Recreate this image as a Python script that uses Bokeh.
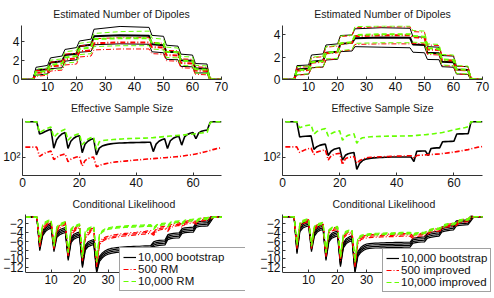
from bokeh.plotting import figure
from bokeh.layouts import column, row
from bokeh.models import FixedTicker, Legend, LegendItem, Range1d
from bokeh.embed import file_html
from bokeh.resources import INLINE

FONT = "Liberation Sans"
BLACK = "#000000"
RED = "#ff0000"
GREEN = "#66ff00"

# ---------------- Estimated number of dipoles (values at breakpoints) ----------------
X_TOP = [1, 5, 6, 10, 11, 15, 16, 20, 21, 25, 26, 35, 45, 46, 50, 51, 55, 56, 60, 61, 65, 66, 67, 70]

BL_hi  = [0, 0, 1.3, 1.5, 2.3, 2.5, 3.2, 3.4, 4.1, 4.3, 5.35, 5.65, 5.55, 4.7, 4.6, 3.65, 3.55, 2.7, 2.6, 1.7, 1.65, 0.1, 0, 0]
BL_mid = [0, 0, 0.95, 1.1, 1.8, 1.95, 2.6, 2.75, 3.55, 3.7, 4.6, 4.7, 4.65, 3.75, 3.65, 2.95, 2.9, 2.05, 2.0, 1.2, 1.15, 0.05, 0, 0]
BL_lo  = [0, 0, 0.45, 0.6, 1.15, 1.25, 1.95, 2.1, 2.9, 3.0, 3.7, 3.8, 3.75, 2.95, 2.85, 2.15, 2.1, 1.4, 1.35, 0.7, 0.7, 0, 0, 0]
RL_hi  = [0, 0, 0.95, 1.05, 1.85, 1.95, 2.7, 2.8, 3.55, 3.7, 4.35, 4.45, 4.45, 3.95, 3.85, 3.1, 3.05, 2.2, 2.15, 1.35, 1.3, 0.2, 0.05, 0]
RL_mid = [0, 0, 0.7, 0.8, 1.4, 1.5, 2.15, 2.25, 3.0, 3.1, 3.85, 3.95, 3.95, 3.45, 3.4, 2.6, 2.55, 1.75, 1.7, 0.95, 0.9, 0.1, 0, 0]
RL_lo  = [0, 0, 0.35, 0.45, 0.9, 1.0, 1.55, 1.65, 2.4, 2.5, 3.15, 3.25, 3.25, 2.75, 2.7, 2.0, 1.95, 1.25, 1.2, 0.55, 0.5, 0, 0, 0]
GL_hi  = [0, 0, 1.1, 1.25, 2.05, 2.2, 2.95, 3.1, 3.85, 4.0, 4.9, 5.1, 5.15, 4.4, 4.3, 3.45, 3.35, 2.45, 2.4, 1.5, 1.45, 0.2, 0.05, 0]
GL_mid = [0, 0, 0.8, 0.9, 1.55, 1.7, 2.35, 2.5, 3.25, 3.4, 4.3, 4.4, 4.4, 3.9, 3.8, 2.95, 2.9, 2.0, 1.95, 1.1, 1.05, 0.1, 0, 0]
GL_lo  = [0, 0, 0.45, 0.55, 1.05, 1.15, 1.75, 1.85, 2.65, 2.75, 3.5, 3.6, 3.6, 3.25, 3.15, 2.35, 2.3, 1.5, 1.45, 0.7, 0.65, 0, 0, 0]

BR_hi  = [0, 0, 1.25, 1.3, 2.2, 2.3, 3.1, 3.2, 3.95, 4.0, 4.55, 4.65, 4.6, 3.85, 3.8, 2.95, 2.9, 2.15, 2.1, 1.2, 1.15, 0.1, 0, 0]
BR_mid = [0, 0, 0.9, 0.98, 1.6, 1.7, 2.4, 2.5, 3.2, 3.3, 3.7, 3.78, 3.75, 3.15, 3.1, 2.4, 2.35, 1.6, 1.55, 0.9, 0.85, 0.05, 0, 0]
BR_lo  = [0, 0, 0.42, 0.48, 1.05, 1.12, 1.75, 1.82, 2.5, 2.56, 2.95, 2.9, 2.85, 2.45, 2.4, 1.8, 1.78, 1.15, 1.1, 0.5, 0.45, 0, 0, 0]
RR_hi  = [0, 0, 1.1, 1.15, 1.95, 2.05, 2.9, 3.0, 3.85, 3.95, 4.65, 4.72, 4.72, 4.3, 4.25, 3.1, 3.05, 2.2, 2.15, 1.2, 1.15, 0.15, 0.05, 0]
RR_mid = [0, 0, 0.8, 0.85, 1.5, 1.6, 2.35, 2.45, 3.2, 3.3, 3.9, 3.97, 3.97, 3.8, 3.75, 2.7, 2.65, 1.75, 1.7, 0.85, 0.83, 0.1, 0, 0]
RR_lo  = [0, 0, 0.4, 0.45, 1.05, 1.1, 1.8, 1.85, 2.55, 2.65, 3.15, 3.2, 3.2, 3.25, 3.2, 2.25, 2.2, 1.25, 1.2, 0.5, 0.45, 0, 0, 0]
GR_hi  = [0, 0, 1.15, 1.2, 2.0, 2.1, 2.95, 3.05, 3.9, 4.0, 4.75, 4.8, 4.8, 4.4, 4.35, 3.2, 3.15, 2.25, 2.2, 1.25, 1.2, 0.15, 0.05, 0]
GR_mid = [0, 0, 0.85, 0.9, 1.55, 1.65, 2.4, 2.5, 3.25, 3.35, 4.0, 4.07, 4.07, 3.9, 3.85, 2.8, 2.75, 1.8, 1.75, 0.9, 0.88, 0.1, 0, 0]
GR_lo  = [0, 0, 0.45, 0.5, 1.1, 1.15, 1.85, 1.9, 2.6, 2.7, 3.25, 3.3, 3.3, 3.35, 3.3, 2.35, 2.3, 1.3, 1.25, 0.55, 0.5, 0, 0, 0]

# ---------------- Effective sample size (t = 1..70) ----------------
T = list(range(1, 71))

ESS_BL = [500, 500, 500, 500, 500,
          285, 300, 320, 340, 355,
          150, 220, 260, 290, 305,
          148, 205, 235, 255, 265,
          122, 180, 205, 222, 232,
          110, 150, 165, 172, 178, 182, 185, 187, 189, 190, 191, 192, 193, 193, 194, 194, 195, 195, 196, 196,
          128, 180, 205, 220, 230,
          148, 210, 235, 250, 258,
          172, 250, 280, 295, 305,
          230, 300, 325, 335, 342,
          490, 500, 500, 500, 500]
ESS_RL = [157, 157, 157, 157, 157,
          103, 112, 120, 126, 132,
          89, 98, 106, 111, 115,
          81, 90, 96, 100, 103,
          66, 85, 93, 97, 100,
          64, 68, 71, 73, 75, 77, 79, 80, 81, 82, 83, 84, 85, 86, 87, 88, 89, 90, 91, 92,
          93, 94, 95, 96, 97, 98, 99, 100, 101, 102, 104, 106, 108, 110, 112, 115, 118, 122, 126, 130,
          135, 140, 145, 150, 152]
ESS_GL = [500, 500, 500, 500, 500,
          300, 330, 355, 375, 395,
          245, 280, 310, 335, 355,
          215, 245, 265, 280, 290,
          175, 205, 225, 240, 250,
          142, 200, 210, 215, 218, 220, 222, 224, 226, 228, 230, 231, 232, 233, 234, 235, 236, 237, 238, 240,
          242, 245, 248, 251, 254, 257, 260, 263, 266, 269, 272, 275, 278, 281, 285, 290, 295, 300, 305, 310,
          480, 500, 500, 500, 500]

ESS_BR = [500, 500, 500, 500, 500,
          250, 255, 258, 260, 262,
          142, 160, 170, 176, 180,
          107, 130, 142, 148, 152,
          87, 108, 116, 120, 123,
          57, 75, 85, 90, 93, 95, 96, 97, 98, 98, 99, 99, 100, 100, 100, 100, 100, 100, 100, 100,
          81, 130, 131, 132, 132,
          107, 148, 150, 152, 152,
          200, 202, 203, 204, 205,
          285, 287, 288, 289, 290,
          500, 500, 500, 500, 500]
ESS_RR = [159, 159, 159, 159, 159,
          123, 132, 140, 146, 150,
          112, 125, 130, 135, 138,
          87, 105, 112, 116, 118,
          71, 92, 98, 100, 102,
          75, 85, 90, 95, 98, 99, 100, 100, 101, 101, 102, 102, 103, 103, 104, 104, 105, 105, 106, 106,
          95, 107, 108, 109, 110, 111, 112, 113, 114, 115,
          117, 119, 121, 123, 125, 128, 131, 134, 137, 140,
          145, 150, 155, 158, 161]
ESS_GR = [500, 500, 500, 500, 500,
          380, 400, 415, 425, 435,
          285, 320, 340, 355, 365,
          260, 290, 310, 320, 330,
          215, 250, 270, 280, 288,
          188, 225, 240, 245, 250, 252, 254, 255, 256, 257, 258, 259, 259, 260, 260, 260, 261, 261, 262, 262,
          265, 268, 271, 274, 277, 281, 285, 290, 295, 300, 307, 315, 325, 335, 345, 355, 365, 375, 385, 400,
          500, 500, 500, 500, 500]

# ---------------- Conditional likelihood (t = 1..70), centre lines ----------------
CL_BL = [-0.6, -0.6, -0.6, -0.6, -0.6,
         -7.6, -4.3, -3.3, -2.8, -2.5,
         -7.8, -4.6, -4.0, -3.7, -3.5,
         -9.8, -5.8, -5.0, -4.7, -4.5,
         -11.4, -7.5, -6.7, -6.4, -6.2,
         -12.6, -10.0, -9.2, -8.7, -8.4, -8.2, -8.1, -8.0, -7.95, -7.9, -7.85, -7.8, -7.8, -7.75, -7.7, -7.7, -7.65, -7.6, -7.6, -7.55,
         -6.7, -6.5, -6.4, -6.35, -6.3,
         -5.1, -4.9, -4.8, -4.75, -4.7,
         -3.7, -3.55, -3.5, -3.45, -3.4,
         -2.3, -2.15, -2.1, -2.05, -2.0,
         -1.1, -0.6, -0.6, -0.6, -0.6]
CL_RL = [-0.6, -0.6, -0.6, -0.6, -0.6,
         -7.0, -3.2, -2.4, -2.0, -1.8,
         -7.5, -3.5, -2.8, -2.3, -2.0,
         -9.2, -4.3, -3.6, -3.0, -2.6,
         -10.2, -5.0, -4.3, -3.5, -3.4,
         -11.5, -6.5, -5.8, -5.4, -5.2, -5.05, -4.9, -4.8, -4.7, -4.6, -4.55, -4.5, -4.4, -4.35, -4.3, -4.2, -4.15, -4.1, -4.0, -3.95,
         -4.4, -3.5, -3.2, -3.05, -2.95,
         -3.5, -2.6, -2.4, -2.25, -2.15,
         -2.6, -1.9, -1.75, -1.65, -1.55,
         -1.9, -1.3, -1.15, -1.05, -1.0,
         -0.75, -0.6, -0.6, -0.6, -0.6]
CL_GL = [-0.6, -0.6, -0.6, -0.6, -0.6,
         -6.2, -2.6, -1.8, -1.5, -1.3,
         -7.0, -2.9, -2.3, -2.0, -1.8,
         -8.5, -3.4, -2.8, -2.5, -2.3,
         -9.6, -3.9, -3.3, -3.0, -2.8,
         -10.6, -4.5, -3.8, -3.4, -3.2, -3.05, -2.95, -2.9, -2.85, -2.8, -2.75, -2.7, -2.7, -2.65, -2.6, -2.6, -2.55, -2.5, -2.5, -2.45,
         -3.2, -2.5, -2.3, -2.2, -2.1,
         -2.6, -1.9, -1.75, -1.65, -1.6,
         -2.0, -1.45, -1.35, -1.3, -1.2,
         -1.5, -1.05, -0.95, -0.9, -0.85,
         -0.7, -0.6, -0.6, -0.6, -0.6]

CL_BR = [-0.5, -0.5, -0.5, -0.5, -0.5,
         -8.3, -3.3, -2.5, -2.2, -2.0,
         -7.8, -4.3, -3.4, -3.0, -2.85,
         -9.8, -5.6, -4.8, -4.5, -4.3,
         -11.2, -7.0, -6.0, -5.6, -5.35,
         -12.6, -8.9, -8.0, -7.5, -7.2, -7.1, -7.05, -7.0, -7.0, -6.95, -6.95, -6.9, -6.9, -6.9, -6.85, -6.85, -6.85, -6.8, -6.8, -6.8,
         -5.9, -5.8, -5.7, -5.65, -5.6,
         -4.8, -4.6, -4.5, -4.4, -4.35,
         -3.4, -3.2, -3.1, -3.0, -2.9,
         -2.0, -1.9, -1.85, -1.8, -1.75,
         -0.9, -0.5, -0.5, -0.5, -0.5]
CL_RR = [-0.5, -0.5, -0.5, -0.5, -0.5,
         -7.4, -2.4, -1.8, -1.55, -1.45,
         -7.4, -3.1, -2.6, -2.4, -2.2,
         -9.2, -3.9, -3.4, -3.25, -3.15,
         -10.2, -5.0, -4.4, -4.2, -4.1,
         -11.5, -6.2, -5.4, -5.1, -5.0, -4.9, -4.85, -4.8, -4.8, -4.75, -4.75, -4.7, -4.7, -4.7, -4.65, -4.65, -4.6, -4.6, -4.6, -4.6,
         -5.1, -4.7, -4.6, -4.55, -4.5,
         -4.2, -3.7, -3.6, -3.5, -3.45,
         -3.2, -2.6, -2.5, -2.4, -2.35,
         -2.2, -1.6, -1.45, -1.35, -1.3,
         -0.65, -0.5, -0.5, -0.5, -0.5]
CL_GR = [-0.5, -0.5, -0.5, -0.5, -0.5,
         -6.8, -2.1, -1.5, -1.25, -1.1,
         -7.0, -2.8, -2.3, -2.1, -1.95,
         -8.5, -3.6, -3.1, -2.95, -2.85,
         -9.5, -4.5, -3.9, -3.7, -3.6,
         -10.6, -5.4, -4.9, -4.7, -4.6, -4.5, -4.45, -4.4, -4.4, -4.35, -4.35, -4.3, -4.3, -4.3, -4.25, -4.25, -4.2, -4.2, -4.2, -4.2,
         -4.6, -4.3, -4.25, -4.2, -4.15,
         -3.9, -3.5, -3.35, -3.25, -3.2,
         -3.0, -2.4, -2.25, -2.15, -2.1,
         -2.0, -1.4, -1.25, -1.15, -1.1,
         -0.6, -0.5, -0.5, -0.5, -0.5]

# half-width of the bundle of runs drawn around each centre line
SPREAD_B = [0.05] * 5 + [0.55] * 61 + [0.05] * 4
SPREAD_R = [0.05] * 5 + [0.3] * 61 + [0.05] * 4
SPREAD_G = [0.05] * 5 + [0.18] * 61 + [0.05] * 4

LEGEND_L = ["10,000 bootstrap", "500 RM", "10,000 RM"]
LEGEND_R = ["10,000 bootstrap", "500 improved", "10,000 improved"]
TITLES = ["Estimated Number of Dipoles", "Effective Sample Size", "Conditional Likelihood"]

STYLE = {"b": dict(color=BLACK, dash="solid"),
         "r": dict(color=RED, dash="5 2 1 2"),
         "g": dict(color=GREEN, dash="5 3")}


def make_fig(h, left, right, top, bottom, title, xr, yr, standoff, ylog=False):
    kw = dict(y_axis_type="log") if ylog else {}
    p = figure(width=247, height=h, output_backend="svg", toolbar_location=None,
               x_range=Range1d(*xr), y_range=Range1d(*yr), **kw)
    p.min_border_left = left
    p.min_border_right = right
    p.min_border_top = top
    p.min_border_bottom = bottom
    p.outline_line_color = None
    p.xgrid.visible = False
    p.ygrid.visible = False
    p.background_fill_color = "white"
    p.border_fill_color = "white"
    p.title.text = title
    p.title.align = "center"
    p.title.text_font = FONT
    p.title.text_font_size = "10.5px"
    p.title.text_font_style = "normal"
    p.title.text_color = "#1a1a1a"
    p.title.standoff = standoff
    for ax in p.axis:
        ax.major_tick_in = 3
        ax.major_tick_out = 0
        ax.minor_tick_in = 0
        ax.minor_tick_out = 0
        ax.axis_line_color = "#333333"
        ax.major_tick_line_color = "#333333"
        ax.major_label_text_font = FONT
        ax.major_label_text_font_size = "12px"
        ax.major_label_text_color = "#111111"
        ax.major_label_standoff = 2
    return p


def top_panel(left, right, lines, yr):
    p = make_fig(95, left, right, 20, 16, TITLES[0], (1, 70), yr, 11)
    p.xaxis.ticker = FixedTicker(ticks=[10, 20, 30, 40, 50, 60, 70])
    p.yaxis.ticker = FixedTicker(ticks=[0, 2, 4])
    for key, (hi, mid, lo) in lines:
        st = STYLE[key]
        for ys, w in ((hi, 1.0), (lo, 1.0), (mid, 2.0)):
            p.line(X_TOP, ys, line_color=st["color"], line_dash=st["dash"], line_width=w)
    return p


def mid_panel(left, right, series):
    p = make_fig(96, left, right, 18, 16, TITLES[1], (0, 70), (43, 580), 9, ylog=True)
    p.xaxis.ticker = FixedTicker(ticks=[0, 20, 40, 60])
    p.yaxis.ticker = FixedTicker(ticks=[100])
    p.yaxis.major_label_overrides = {100: "10\u00b2"}
    for key, ys in series:
        st = STYLE[key]
        p.line(T, ys, line_color=st["color"], line_dash=st["dash"], line_width=1.6)
    return p


def bottom_panel(left, right, xmax, title_offset, series, labels, loc):
    # the frame reaches down/right under the legend; the x axis is pinned at the data floor
    p = make_fig(107, left, right, 19, 5, TITLES[2], (1, xmax), (-17.8, 0), 9)
    p.title.align = "left"
    p.title.offset = title_offset
    p.xaxis.ticker = FixedTicker(ticks=[10, 20, 30])
    p.xaxis.fixed_location = -13.1
    p.xaxis.bounds = (1, 70)
    p.yaxis.bounds = (-13.1, 0)
    p.yaxis.ticker = FixedTicker(ticks=[-12, -10, -8, -6, -4, -2])
    p.yaxis.major_label_overrides = {v: "\u2212" + str(-v) for v in [-12, -10, -8, -6, -4, -2]}
    reps = {}
    offsets = {"b": (-1.0, -0.33, 0.33, 1.0), "r": (-1.0, 0.0, 1.0), "g": (-1.0, 0.0, 1.0)}
    for key, mean, spread in series:
        st = STYLE[key]
        for k in offsets[key]:
            ys = [m + k * s for m, s in zip(mean, spread)]
            r = p.line(T, ys, line_color=st["color"], line_dash=st["dash"], line_width=1.2)
            reps.setdefault(key, r)
    items = [LegendItem(label=labels[i], renderers=[reps[k]]) for i, k in enumerate(["b", "r", "g"])]
    leg = Legend(items=items, location=loc)
    leg.label_text_font = FONT
    leg.label_text_font_size = "11.5px"
    leg.label_text_color = "#111111"
    leg.label_text_line_height = 1.0
    leg.glyph_width = 13
    leg.glyph_height = 12
    leg.label_height = 12
    leg.label_standoff = 2
    leg.spacing = 0
    leg.padding = 3
    leg.margin = 0
    leg.border_line_color = "#444444"
    leg.border_line_width = 1
    leg.background_fill_color = "white"
    leg.background_fill_alpha = 1.0
    p.add_layout(leg)
    return p, leg


tl = top_panel(21, 26, [("b", (BL_hi, BL_mid, BL_lo)), ("r", (RL_hi, RL_mid, RL_lo)),
                        ("g", (GL_hi, GL_mid, GL_lo))], (0, 5.75))
tr = top_panel(35, 12, [("b", (BR_hi, BR_mid, BR_lo)), ("r", (RR_hi, RR_mid, RR_lo)),
                        ("g", (GR_hi, GR_mid, GR_lo))], (0, 4.85))
ml = mid_panel(21, 26, [("b", ESS_BL), ("r", ESS_RL), ("g", ESS_GL)])
mr = mid_panel(35, 12, [("b", ESS_BR), ("r", ESS_RR), ("g", ESS_GR)])
bl, legl = bottom_panel(21, 2, 78.28, 47, [("b", CL_BL, SPREAD_B), ("r", CL_RL, SPREAD_R), ("g", CL_GL, SPREAD_G)],
                        LEGEND_L, (94, 2))
legl.label_width = 107
br, legr = bottom_panel(35, 0, 74.14, 50, [("b", CL_BR, SPREAD_B), ("r", CL_RR, SPREAD_R), ("g", CL_GR, SPREAD_G)],
                        LEGEND_R, (100, 1))

layout = column(row(tl, tr), row(ml, mr), row(bl, br))

open("out.html", "w").write(file_html(layout, INLINE))
